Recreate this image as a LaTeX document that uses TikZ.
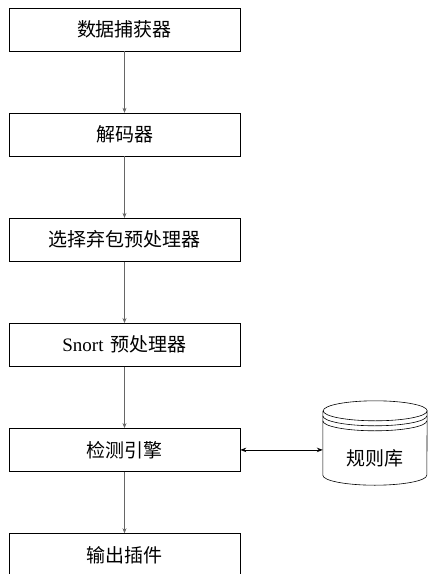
\documentclass[tikz,border=0pt]{standalone}
\usepackage{fontspec}
\setmainfont{Liberation Serif}
\newfontfamily\cjk{Noto Sans CJK SC}
\usetikzlibrary{positioning,arrows.meta}

\begin{document}
\begin{tikzpicture}[x=1pt, y=1pt, node distance=61.5pt]
  \tikzset{stage/.style={draw, line width=0.6pt, minimum width=231pt, minimum height=43pt, inner sep=0pt, font=\cjk\fontsize{19}{22}\selectfont},
    flow/.style={-{Stealth[length=5pt,width=4pt]}, line width=0.5pt, draw=black!60},
    both/.style={{Stealth[length=6pt,width=4.5pt]}-{Stealth[length=6pt,width=4.5pt]}, line width=0.8pt}}
  \useasboundingbox (0,0) rectangle (428,-574);
  \node[stage] (capture) at (124.5,-29.5) {数据捕获器};
  \node[stage, below=of capture] (decoder) {解码器};
  \node[stage, below=of decoder] (drop) {选择弃包预处理器};
  \node[stage, below=of drop] (prep) {{\rmfamily Snort}\hspace{7pt}预处理器};
  \node[stage, below=of prep] (detect) {检测引擎};
  \node[stage, below=of detect] (output) {输出插件};
  \node[minimum width=104pt, minimum height=84pt, inner sep=0pt] (db) at (375,-443) {};
  \node[font=\cjk\fontsize{19}{22}\selectfont] (dblabel) at (375,-458) {规则库};
  \draw[line width=0.6pt] ([yshift=-10pt]db.north west) -- ([yshift=10pt]db.south west)
    arc[start angle=180, end angle=360, x radius=52pt, y radius=10pt]
    -- ([yshift=-10pt]db.north east)
    arc[start angle=0, end angle=180, x radius=52pt, y radius=10pt]
    arc[start angle=180, end angle=360, x radius=52pt, y radius=10pt];
  \draw[line width=0.6pt] ([yshift=-15pt]db.north west) arc[start angle=180, end angle=360, x radius=52pt, y radius=10pt];
  \draw[line width=0.6pt] ([yshift=-20pt]db.north west) arc[start angle=180, end angle=360, x radius=52pt, y radius=10pt];
  \draw[flow] (capture) -- (decoder);
  \draw[flow] (decoder) -- (drop);
  \draw[flow] (drop) -- (prep);
  \draw[flow] (prep) -- (detect);
  \draw[flow] (detect) -- (output);
  \draw[both] (detect.east) -- (detect.east -| db.west);
\end{tikzpicture}
\end{document}
